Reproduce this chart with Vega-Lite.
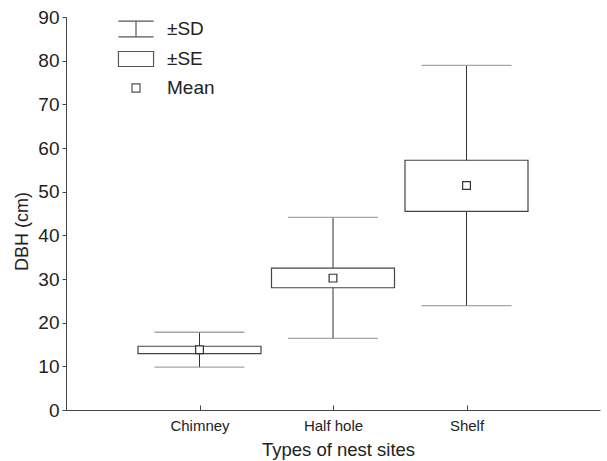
{
  "$schema": "https://vega.github.io/schema/vega-lite/v6.json",
  "width": 534,
  "height": 393,
  "autosize": {"type": "none"},
  "padding": {"left": 66, "top": 17, "right": 7, "bottom": 51},
  "background": "white",
  "config": {
    "view": {"stroke": null},
    "font": "Liberation Sans",
    "axis": {"grid": false, "domainColor": "#444", "tickColor": "#444", "labelColor": "#222", "titleColor": "#222", "titleFontWeight": "normal", "labelFont": "Liberation Sans", "titleFont": "Liberation Sans"}
  },
  "datasets": {
    "stats": [
      {"site": "Chimney", "mean": 13.8, "se_lo": 12.9, "se_hi": 14.6, "sd_lo": 9.8, "sd_hi": 17.8},
      {"site": "Half hole", "mean": 30.2, "se_lo": 28.0, "se_hi": 32.5, "sd_lo": 16.4, "sd_hi": 44.1},
      {"site": "Shelf", "mean": 51.4, "se_lo": 45.5, "se_hi": 57.2, "sd_lo": 23.9, "sd_hi": 78.9}
    ],
    "legend": [
      {"item": "±SD"}, {"item": "±SE"}, {"item": "Mean"}
    ]
  },
  "layer": [
    {
      "data": {"name": "stats"},
      "mark": {"type": "rule", "color": "#333", "strokeWidth": 1},
      "encoding": {
        "x": {"field": "site", "type": "nominal", "scale": {"type": "point", "padding": 1}, "sort": null,
          "axis": {"title": "Types of nest sites", "labelAngle": 0, "labelFontSize": 15, "titleFontSize": 18.5, "tickSize": -5, "labelPadding": 13, "titleX": 272, "titleY": 45, "titleBaseline": "alphabetic"}},
        "y": {"field": "sd_lo", "type": "quantitative", "scale": {"domain": [0, 90], "nice": false},
          "axis": {"title": "DBH (cm)", "values": [0,10,20,30,40,50,60,70,80,90], "labelFontSize": 19, "titleFontSize": 18, "tickSize": 4, "labelPadding": 3, "titleX": -39, "titleY": 214, "titleBaseline": "alphabetic", "titleAngle": -90, "titleAlign": "center"}},
        "y2": {"field": "sd_hi"}
      }
    },
    {
      "data": {"name": "stats"},
      "mark": {"type": "tick", "color": "#808080", "size": 90, "thickness": 1.3},
      "encoding": {
        "x": {"field": "site", "type": "nominal", "sort": null},
        "y": {"field": "sd_lo", "type": "quantitative"}
      }
    },
    {
      "data": {"name": "stats"},
      "mark": {"type": "tick", "color": "#808080", "size": 90, "thickness": 1.3},
      "encoding": {
        "x": {"field": "site", "type": "nominal", "sort": null},
        "y": {"field": "sd_hi", "type": "quantitative"}
      }
    },
    {
      "data": {"name": "stats"},
      "mark": {"type": "bar", "width": 123, "fill": "white", "stroke": "#444", "strokeWidth": 1.2},
      "encoding": {
        "x": {"field": "site", "type": "nominal", "sort": null},
        "y": {"field": "se_lo", "type": "quantitative"},
        "y2": {"field": "se_hi"}
      }
    },
    {
      "data": {"name": "stats"},
      "mark": {"type": "point", "shape": "square", "size": 60, "fill": "white", "stroke": "#333", "strokeWidth": 1.2, "opacity": 1},
      "encoding": {
        "x": {"field": "site", "type": "nominal", "sort": null},
        "y": {"field": "mean", "type": "quantitative"}
      }
    },
    {
      "data": {"name": "legend"},
      "mark": {"type": "point", "opacity": 0},
      "encoding": {
        "shape": {"field": "item", "type": "nominal",
          "scale": {"domain": ["±SD", "±SE", "Mean"], "range": ["M-1.17,-0.53H1.17M0,-0.53V0.53M-1.17,0.53H1.17", "M-1.17,-0.5H1.17V0.5H-1.17Z", "M-0.27,-0.27H0.27V0.27H-0.27Z"]},
          "legend": {"title": null, "orient": "none", "legendX": 54, "legendY": -4, "padding": 0, "symbolSize": 900, "symbolStrokeColor": "#555", "symbolFillColor": "white", "symbolStrokeWidth": 1.2, "symbolOpacity": 1, "labelFontSize": 19, "labelColor": "#222", "labelOffset": 15, "rowPadding": 3}
        }
      }
    }
  ]
}
